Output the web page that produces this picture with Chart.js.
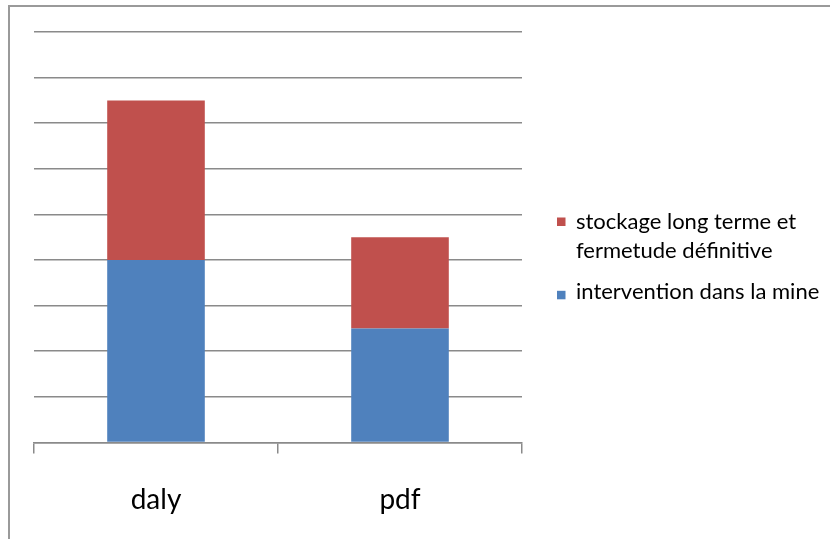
<!DOCTYPE html>
<html>
<head>
<meta charset="utf-8">
<script src="https://cdn.jsdelivr.net/npm/chart.js@4/dist/chart.umd.min.js"></script>
<style>
  html, body { margin: 0; padding: 0; background: #ffffff; }
  #wrap { position: relative; width: 830px; height: 539px; }
</style>
</head>
<body>
<div id="wrap"><canvas id="chart" width="830" height="539"></canvas></div>
<script>
// Categories and stacked series values
const categories = ['daly', 'pdf'];
const interventionMine = [4, 2.5];
const stockageLongTerme = [3.5, 2];
const seriesLabels = [
  'intervention dans la mine',
  ['stockage long terme et', 'fermetude définitive']
];
const yMin = 0;
const yMax = 9;
const yStep = 1;

const BLUE = '#4f81bd';
const RED = '#c0504d';
const GRID = '#8a8a8a';
const FONT = 'Lato, "Open Sans", sans-serif';

// Grey frame along the top and left edges of the page
const framePlugin = {
  id: 'frame',
  beforeDraw(chart) {
    const ctx = chart.ctx;
    ctx.save();
    ctx.fillStyle = '#ffffff';
    ctx.fillRect(0, 0, chart.width, chart.height);
    ctx.strokeStyle = '#9a9a9a';
    ctx.lineWidth = 2;
    ctx.beginPath();
    ctx.moveTo(9, chart.height);
    ctx.lineTo(9, 6);
    ctx.lineTo(chart.width, 6);
    ctx.stroke();
    ctx.restore();
  }
};

// Legend on the right, last series first, multi-line labels supported
const sideLegend = {
  id: 'sideLegend',
  afterDraw(chart, args, opts) {
    const ctx = chart.ctx;
    const items = chart.data.datasets.map((ds, i) => ({ ds, i })).reverse();
    ctx.save();
    ctx.font = opts.fontSize + 'px ' + FONT;
    ctx.textBaseline = 'alphabetic';
    ctx.textAlign = 'left';
    let baseline = opts.top;
    items.forEach((it, k) => {
      const lines = Array.isArray(it.ds.label) ? it.ds.label : [it.ds.label];
      ctx.fillStyle = it.ds.backgroundColor;
      ctx.fillRect(opts.boxX, baseline + opts.boxOffset[k], opts.boxSize, opts.boxSize);
      ctx.fillStyle = '#000000';
      lines.forEach((line, j) => {
        ctx.fillText(line, opts.textX, baseline + j * opts.lineHeight);
      });
      baseline += (lines.length - 1) * opts.lineHeight + opts.itemGap;
    });
    ctx.restore();
  }
};

new Chart(document.getElementById('chart'), {
  type: 'bar',
  data: {
    labels: categories,
    datasets: [
      {
        label: seriesLabels[0],
        data: interventionMine,
        backgroundColor: BLUE,
        borderWidth: 0
      },
      {
        label: seriesLabels[1],
        data: stockageLongTerme,
        backgroundColor: RED,
        borderWidth: 0
      }
    ]
  },
  options: {
    responsive: false,
    animation: false,
    devicePixelRatio: 1,
    layout: { padding: { left: 34, top: 32, right: 308, bottom: -8 } },
    datasets: { bar: { categoryPercentage: 0.8, barPercentage: 0.5 } },
    plugins: {
      legend: { display: false },
      tooltip: { enabled: false },
      sideLegend: {
        fontSize: 22,
        boxX: 557,
        boxSize: 8.5,
        textX: 576,
        top: 229,
        lineHeight: 29.3,
        itemGap: 41,
        boxOffset: [-11.5, -8.5]
      }
    },
    scales: {
      x: {
        stacked: true,
        offset: true,
        grid: {
          offset: true,
          drawOnChartArea: false,
          drawTicks: true,
          tickLength: 11,
          color: GRID,
          lineWidth: 1.5
        },
        border: { display: true, color: GRID, width: 1.5 },
        ticks: {
          color: '#000000',
          padding: 30,
          font: { family: FONT, size: 28 }
        }
      },
      y: {
        stacked: true,
        min: yMin,
        max: yMax,
        grid: {
          drawTicks: false,
          color: GRID,
          lineWidth: 1.5
        },
        border: { display: false },
        ticks: { display: false, stepSize: yStep }
      }
    }
  },
  plugins: [framePlugin, sideLegend]
});
</script>
</body>
</html>
